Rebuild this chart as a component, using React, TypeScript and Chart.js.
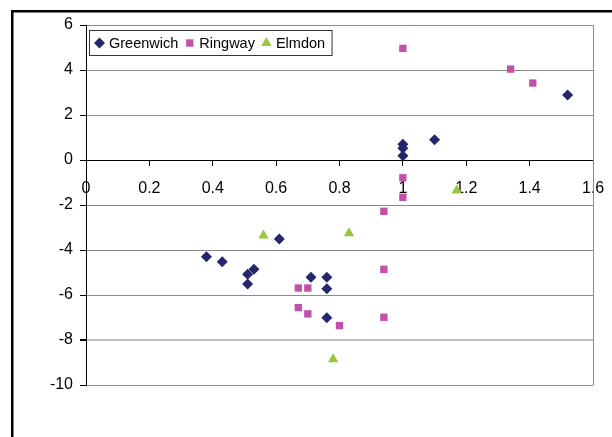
import React, { useEffect, useRef } from "react";
import { Chart, registerables } from "chart.js";
import { drawPoint } from "chart.js/helpers";

Chart.register(...registerables);

// Series values (x, y pairs)
const greenwichX = [0.38, 0.43, 0.51, 0.53, 0.51, 0.61, 0.71, 0.76, 0.76, 0.76, 1.0, 1.0, 1.0, 1.1, 1.52];
const greenwichY = [-4.3, -4.52, -5.08, -4.86, -5.51, -3.51, -5.21, -5.21, -5.72, -7.01, 0.7, 0.52, 0.19, 0.9, 2.89];

const ringwayX = [1.0, 1.34, 1.41, 1.0, 1.0, 0.94, 0.94, 0.94, 0.67, 0.7, 0.67, 0.7, 0.8];
const ringwayY = [4.96, 4.04, 3.42, -0.79, -1.66, -2.28, -4.86, -6.99, -5.69, -5.69, -6.56, -6.84, -7.36];

const elmdonX = [0.56, 0.83, 0.78, 1.17];
const elmdonY = [-3.35, -3.25, -8.85, -1.35];

const seriesNames = ["Greenwich", "Ringway", "Elmdon"];

// Axis tick values
const xTicks = [0, 0.2, 0.4, 0.6, 0.8, 1, 1.2, 1.4, 1.6];
const yTicks = [-10, -8, -6, -4, -2, 0, 2, 4, 6];

const FONT = "'Liberation Sans', Arial, Helvetica, sans-serif";

const toPoints = (xs: number[], ys: number[]) => xs.map((x, i) => ({ x, y: ys[i] }));

// Outer black frame of the chart object and the plot-area right edge
const framePlugin = {
  id: "frame",
  beforeDraw(chart: any) {
    const ctx = chart.ctx;
    ctx.save();
    ctx.fillStyle = "#000";
    ctx.fillRect(11, 10, 2.5, chart.height - 10);
    ctx.fillRect(11, 10, chart.width - 11, 2.5);
    ctx.restore();
  },
  beforeDatasetsDraw(chart: any) {
    const { ctx, chartArea } = chart;
    ctx.save();
    ctx.strokeStyle = "#8c8c8c";
    ctx.lineWidth = 1;
    ctx.beginPath();
    ctx.moveTo(Math.round(chartArea.right) + 0.5, chartArea.top);
    ctx.lineTo(Math.round(chartArea.right) + 0.5, chartArea.bottom);
    ctx.stroke();
    ctx.restore();
  },
};

// Boxed legend placed inside the plot area, top-left
const insideLegendPlugin = {
  id: "insideLegend",
  afterDraw(chart: any) {
    const { ctx, chartArea } = chart;
    const left = Math.round(chartArea.left) + 3.5;
    const top = Math.round(chartArea.top) + 5.5;
    const h = 25;
    ctx.save();
    ctx.font = `14.5px ${FONT}`;
    let x = left + 10;
    const items: { sx: number; tx: number; ds: any }[] = [];
    chart.data.datasets.forEach((ds: any) => {
      const sx = x;
      const tx = x + 9.5;
      items.push({ sx, tx, ds });
      x = tx + ctx.measureText(ds.label).width + 11.5;
    });
    const width = x - 11.5 + 7 - left;
    ctx.fillStyle = "#fff";
    ctx.fillRect(left, top, width, h);
    ctx.strokeStyle = "#333";
    ctx.lineWidth = 1;
    ctx.strokeRect(left, top, width, h);
    const cy = top + h / 2;
    items.forEach(({ sx, tx, ds }) => {
      ctx.fillStyle = ds.backgroundColor;
      ctx.strokeStyle = ds.borderColor;
      ctx.lineWidth = 0;
      drawPoint(ctx, { pointStyle: ds.pointStyle, radius: ds.pointRadius, borderWidth: 0, rotation: 0 } as any, sx, cy);
      ctx.fillStyle = "#000";
      ctx.textBaseline = "middle";
      ctx.textAlign = "left";
      ctx.fillText(ds.label, tx, cy + 1);
    });
    ctx.restore();
  },
};

export default function App() {
  const canvasRef = useRef<HTMLCanvasElement | null>(null);

  useEffect(() => {
    if (!canvasRef.current) return;
    const chart = new Chart(canvasRef.current, {
      type: "scatter",
      data: {
        datasets: [
          {
            label: seriesNames[0],
            data: toPoints(greenwichX, greenwichY),
            pointStyle: "rectRot",
            pointRadius: 5.5,
            backgroundColor: "#26266f",
            borderColor: "#26266f",
            borderWidth: 0,
          },
          {
            label: seriesNames[1],
            data: toPoints(ringwayX, ringwayY),
            pointStyle: "rect",
            pointRadius: 5.2,
            backgroundColor: "#c251a8",
            borderColor: "#c251a8",
            borderWidth: 0,
          },
          {
            label: seriesNames[2],
            data: toPoints(elmdonX, elmdonY),
            pointStyle: "triangle",
            pointRadius: 6,
            backgroundColor: "#98c63c",
            borderColor: "#98c63c",
            borderWidth: 0,
          },
        ] as any,
      },
      options: {
        responsive: false,
        animation: false,
        layout: { padding: { left: 0, top: 25, right: 19, bottom: 52 } },
        font: { family: FONT } as any,
        plugins: {
          legend: { display: false },
          tooltip: { enabled: false },
        },
        scales: {
          x: {
            type: "linear",
            position: { y: 0 } as any,
            min: xTicks[0],
            max: xTicks[xTicks.length - 1],
            z: 1,
            afterBuildTicks: (scale: any) => {
              scale.ticks = xTicks.map((v) => ({ value: v }));
            },
            afterFit: (scale: any) => {
              scale.paddingLeft = 0;
              scale.paddingRight = 0;
            },
            ticks: {
              color: "#000",
              font: { family: FONT, size: 16 },
              padding: 14,
              maxRotation: 0,
              autoSkip: false,
              callback: (v: any) => String(Math.round(Number(v) * 10) / 10),
            },
            grid: {
              drawOnChartArea: false,
              drawTicks: true,
              tickLength: 5,
              tickColor: "#000",
            },
            border: { display: true, color: "#000", width: 1 },
          },
          y: {
            type: "linear",
            min: yTicks[0],
            max: yTicks[yTicks.length - 1],
            afterBuildTicks: (scale: any) => {
              scale.ticks = yTicks.map((v) => ({ value: v }));
            },
            afterFit: (scale: any) => {
              scale.width = 86;
            },
            ticks: {
              color: "#000",
              font: { family: FONT, size: 16 },
              padding: 7,
              autoSkip: false,
              callback: (v: any) => String(v),
            },
            grid: {
              color: (c: any) => (c.tick && c.tick.value === -8 ? "#c0c0c0" : "#8c8c8c"),
              lineWidth: (c: any) => (c.tick && c.tick.value === -8 ? 2 : 1),
              tickColor: "#000",
              tickLength: 6,
            },
            border: { display: true, color: "#000", width: 1 },
          },
        },
      },
      plugins: [framePlugin, insideLegendPlugin],
    });
    return () => chart.destroy();
  }, []);

  return (
    <div style={{ position: "absolute", left: 0, top: 0, width: 612, height: 437, background: "#fff" }}>
      <canvas ref={canvasRef} width={612} height={437} style={{ display: "block" }} />
    </div>
  );
}
